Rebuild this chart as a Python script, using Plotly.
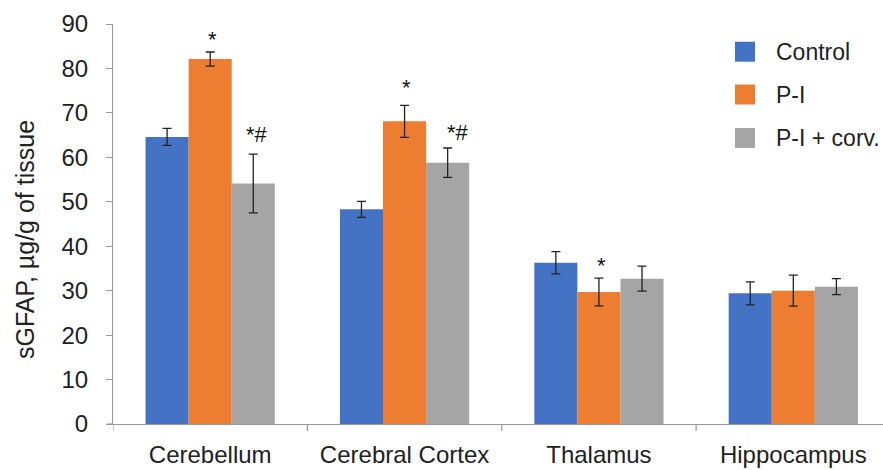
import plotly.graph_objects as go

categories = ["Cerebellum", "Cerebral Cortex", "Thalamus", "Hippocampus"]
series_names = ["Control", "P-I", "P-I + corv."]
control = [64.6, 48.3, 36.3, 29.4]
control_err = [1.9, 1.8, 2.5, 2.6]
pi = [82.1, 68.1, 29.7, 30.0]
pi_err = [1.6, 3.6, 3.1, 3.5]
pi_corv = [54.1, 58.8, 32.7, 30.9]
pi_corv_err = [6.6, 3.3, 2.8, 1.8]
colors = ["#4472C4", "#ED7D31", "#A5A5A5"]
y_ticks = [0, 10, 20, 30, 40, 50, 60, 70, 80, 90]
y_title = "sGFAP, µg/g of tissue"

# significance marks: (category index, series index, label, y value, x shift px)
marks = [(0, 1, "*", 86.6, 2), (0, 2, "*#", 65.2, 4), (1, 1, "*", 75.8, 2),
         (1, 2, "*#", 65.6, 10), (2, 1, "*", 35.6, 3)]

FONT = "Liberation Sans, Arial, sans-serif"
W, H = 883, 470
L, R, T, B = 113, 0, 24, 46
pw, ph = W - L - R, H - T - B

def px(x):
    return (x - L) / pw

def py(y):
    return (H - B - y) / ph

fig = go.Figure()
xs = list(range(len(categories)))
for name, vals, errs, col in zip(series_names, [control, pi, pi_corv],
                                 [control_err, pi_err, pi_corv_err], colors):
    fig.add_trace(go.Bar(
        x=xs, y=vals, name=name, marker_color=col, marker_line_width=0,
        error_y=dict(type="data", array=errs, visible=True, color="#222222",
                     thickness=1.3, width=4.5),
        showlegend=False, hoverinfo="skip",
    ))

group_frac = 0.665
bar_w = group_frac / 3
for ci, si, txt, yv, sh in marks:
    fig.add_annotation(x=ci + (si - 1) * bar_w, y=yv, xref="x", yref="y",
                       text=txt, showarrow=False, xshift=sh,
                       font=dict(family=FONT, size=22, color="#111111"))

# custom legend
leg_y = [51.7, 94.5, 138]
for name, col, yc in zip(series_names, colors, leg_y):
    fig.add_shape(type="rect", xref="paper", yref="paper",
                  x0=px(735), x1=px(755), y0=py(yc + 10), y1=py(yc - 10),
                  fillcolor=col, line_width=0)
    fig.add_annotation(xref="paper", yref="paper", x=px(774), y=py(yc),
                       text=name, showarrow=False, xanchor="left", yanchor="middle",
                       font=dict(family=FONT, size=23, color="#222222"))

# y-axis title
fig.add_annotation(xref="paper", yref="paper", x=px(25), y=py(240),
                   text=y_title, textangle=-90, showarrow=False,
                   xanchor="center", yanchor="middle",
                   font=dict(family=FONT, size=25, color="#222222"))

last_edge = 3.5 - (890.5 - 883) / 194.5
fig.update_layout(
    width=W, height=H,
    margin=dict(l=L, r=R, t=T, b=B),
    paper_bgcolor="white", plot_bgcolor="white",
    barmode="group", bargap=1 - group_frac, bargroupgap=0,
    font=dict(family=FONT, color="#222222"),
    xaxis=dict(
        tickmode="array", tickvals=xs, ticktext=categories, automargin=False,
        range=[-0.5, last_edge], showline=True, linecolor="#9a9a9a", linewidth=1.2,
        ticks="", showgrid=False, zeroline=False,
        tickfont=dict(family=FONT, size=24, color="#222222"), ticklabelstandoff=9,
    ),
    yaxis=dict(
        range=[0, 90], tickvals=y_ticks, showline=True, linecolor="#9a9a9a",
        linewidth=1.2, ticks="outside", ticklen=6, tickcolor="#9a9a9a",
        showgrid=False, zeroline=False, automargin=False,
        tickfont=dict(family=FONT, size=24, color="#222222"), ticklabelstandoff=13,
    ),
)

# category boundary ticks on x axis
for b in [-0.5, 0.5, 1.5, 2.5]:
    fig.add_shape(type="line", xref="x", yref="paper", x0=b, x1=b,
                  y0=0, y1=-7 / ph, line=dict(color="#9a9a9a", width=1.2))
# small extension of x axis line to the left
fig.add_shape(type="line", xref="paper", yref="paper", x0=px(107), x1=0,
              y0=0, y1=0, line=dict(color="#9a9a9a", width=1.2))

fig.write_html("out.html", config={"displayModeBar": False},
               post_script="document.body.style.margin='0';document.body.style.padding='0';")
